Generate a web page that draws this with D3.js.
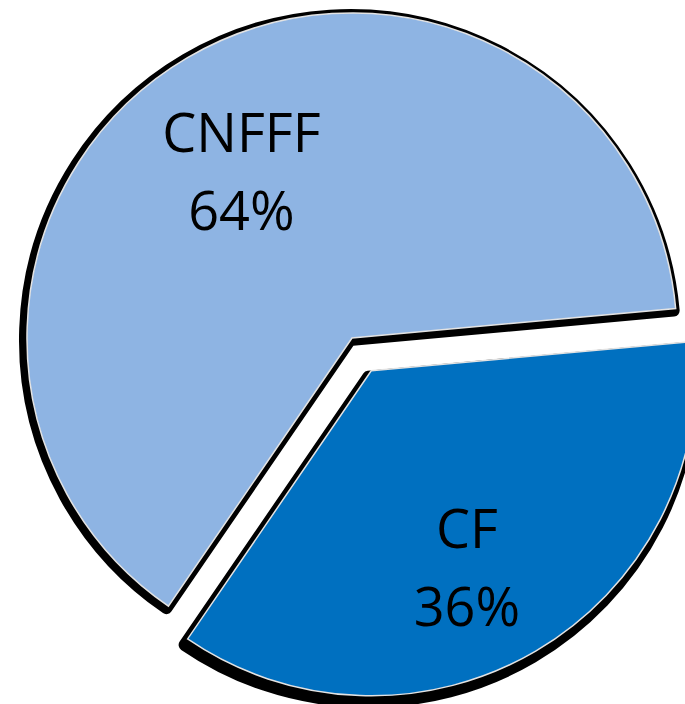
<!DOCTYPE html>
<html>
<head>
<meta charset="utf-8">
<script src="https://cdn.jsdelivr.net/npm/d3@7"></script>
<style>
  body { margin: 0; background: #fff; }
  svg { display: block; }
</style>
</head>
<body>
<div id="chart"></div>
<script>
// data
const categories = ["CF", "CNFFF"];
const shares = [36, 64];

const width = 685, height = 704;
const radius = 325;
const center = [352, 338];   // centre of the un-exploded pie
const explodeBy = 38;        // CF is pulled out of the pie
const startAngle = 84.8 * Math.PI / 180;

const colors = d3.scaleOrdinal()
	.domain(categories)
	.range(["#0070C0", "#8EB4E3"]);

// black shadow behind each slice, shifted a bit (dx, dy)
const shadowShift = {CF: [-3, 6], CNFFF: [-2, 2]};
// small hand nudges of the labels off the arc centroid
const labelNudge = {CF: [-8, 20], CNFFF: [-7, 10]};

const svg = d3.select("#chart").append("svg")
	.attr("width", width)
	.attr("height", height);

svg.append("rect")
	.attr("width", width)
	.attr("height", height)
	.attr("fill", "#fff");

const pie = d3.pie()
	.sort(null)
	.value(function(d, i) { return shares[i]; })
	.startAngle(startAngle)
	.endAngle(startAngle + 2 * Math.PI);

const arcs = pie(categories);

const arc = d3.arc()
	.innerRadius(0)
	.outerRadius(radius);

function offset(d) {
	if (d.data !== "CF") return [0, 0];
	const mid = (d.startAngle + d.endAngle) / 2;
	return [Math.sin(mid) * explodeBy, -Math.cos(mid) * explodeBy];
}

const g = svg.append("g")
	.attr("transform", "translate(" + center[0] + "," + center[1] + ")");

// shadows first, so no slice gets covered by the other one's shadow
g.selectAll(".shadow")
	.data(arcs)
	.enter().append("path")
	.attr("class", "shadow")
	.attr("transform", function(d) {
		const o = offset(d), s = shadowShift[d.data];
		return "translate(" + (o[0] + s[0]) + "," + (o[1] + s[1]) + ")";
	})
	.attr("d", arc)
	.attr("fill", "#000")
	.attr("stroke", "#000")
	.attr("stroke-width", 12)
	.attr("stroke-linejoin", "round");

g.selectAll(".slice")
	.data(arcs)
	.enter().append("path")
	.attr("class", "slice")
	.attr("transform", function(d) {
		const o = offset(d);
		return "translate(" + o[0] + "," + o[1] + ")";
	})
	.attr("d", arc)
	.attr("fill", function(d) { return colors(d.data); })
	.attr("stroke", "#e3e3e3")
	.attr("stroke-width", 1.5);

// labels: name on one line, share below it
const labelArc = d3.arc()
	.innerRadius(radius * 0.63)
	.outerRadius(radius * 0.63);

const labels = g.selectAll(".label")
	.data(arcs)
	.enter().append("text")
	.attr("class", "label")
	.attr("transform", function(d) {
		const o = offset(d), c = labelArc.centroid(d), n = labelNudge[d.data];
		return "translate(" + (c[0] + o[0] + n[0]) + "," + (c[1] + o[1] + n[1]) + ")";
	})
	.attr("text-anchor", "middle")
	.attr("font-family", "'Open Sans', sans-serif")
	.attr("font-size", "54px")
	.attr("fill", "#000");

labels.append("tspan")
	.attr("x", 0)
	.attr("y", -19)
	.text(function(d) { return d.data; });

labels.append("tspan")
	.attr("x", 0)
	.attr("y", 59)
	.text(function(d, i) { return shares[i] + "%"; });
</script>
</body>
</html>
